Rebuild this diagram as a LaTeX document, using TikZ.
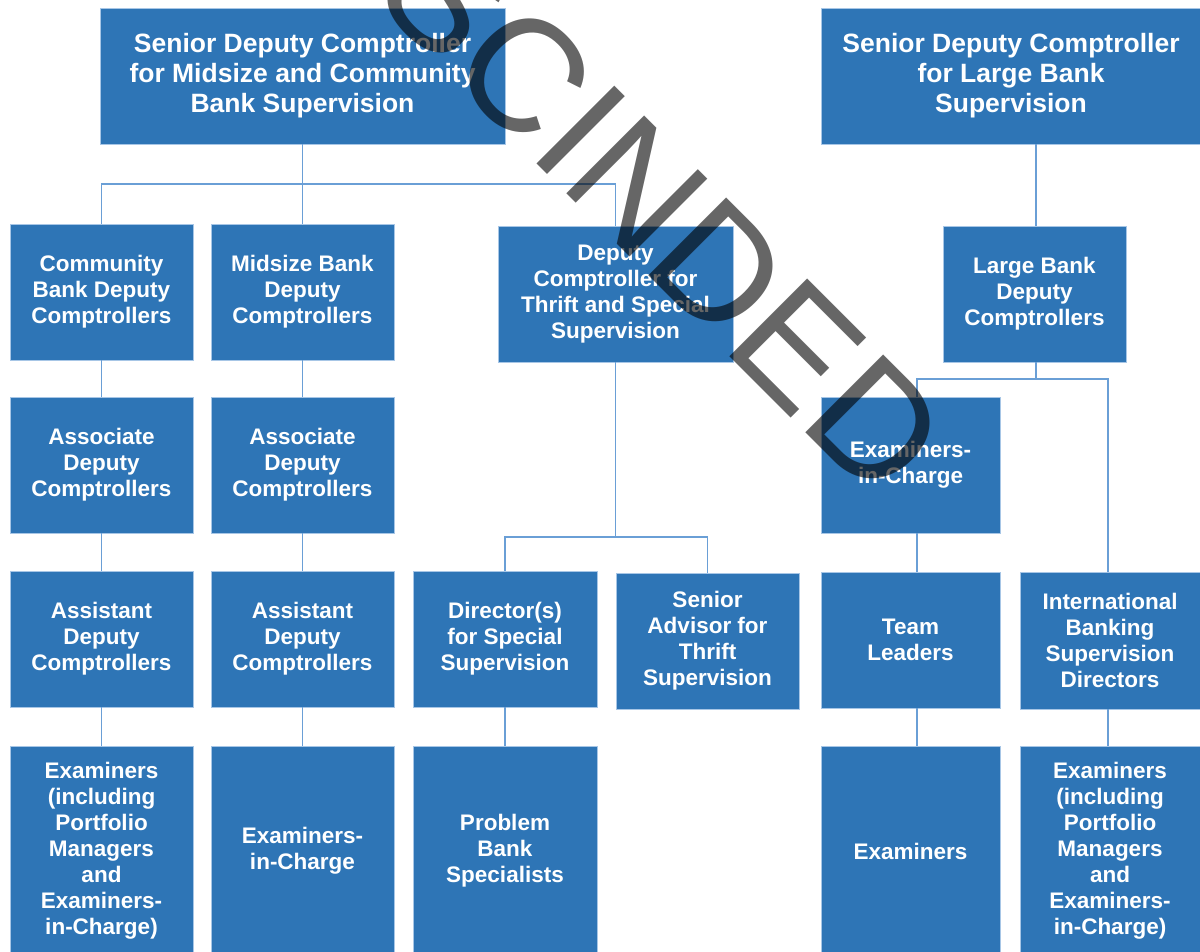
\documentclass[tikz,border=0pt]{standalone}
\usepackage{fontspec}
\setmainfont{Liberation Sans}
\definecolor{boxblue}{HTML}{2E75B6}
\definecolor{rimblue}{HTML}{A7C6E6}
\definecolor{wireblue}{HTML}{6A9FD6}

\begin{document}
\begin{tikzpicture}[
    x=1pt, y=-1pt,
    unit/.style={rectangle, fill=boxblue, draw=rimblue, line width=0.8pt,
        minimum width=183pt, minimum height=136pt, inner sep=0pt,
        align=center, text=white,
        font=\fontsize{22.5}{26}\selectfont\bfseries},
    head/.style={unit, minimum height=136pt,
        font=\fontsize{26.5}{30}\selectfont\bfseries},
    tall/.style={unit, minimum height=210pt},
    link/.style={wireblue, line width=1.5pt, -},
    stamp/.style={rotate=-45, text=black, text opacity=0.6, inner sep=0pt,
        font=\fontsize{160}{160}\selectfont}
]
    \useasboundingbox (0,0) rectangle (1200,951);
    \clip (0,0) rectangle (1200,951);
    \fill[white] (0,0) rectangle (1200,951);

    \node[head, minimum width=405pt] (sdcm) at (302.5,76)
        {Senior Deputy Comptroller\\for Midsize and Community\\Bank Supervision};
    \node[head, minimum width=380pt] (sdcl) at (1011,76)
        {Senior Deputy Comptroller\\for Large Bank\\Supervision};

    \node[unit] (cbdc) at (101.5,292) {Community\\Bank Deputy\\Comptrollers};
    \node[unit] (mbdc) at (302.5,292) {Midsize Bank\\Deputy\\Comptrollers};
    \node[unit, minimum width=235pt] (dcts) at (615.5,294)
        {Deputy\\Comptroller for\\Thrift and Special\\Supervision};
    \node[unit] (lbdc) at (1034.5,294) {Large Bank\\Deputy\\Comptrollers};

    \node[unit] (adc1) at (101.5,465) {Associate\\Deputy\\Comptrollers};
    \node[unit] (adc2) at (302.5,465) {Associate\\Deputy\\Comptrollers};
    \node[unit, minimum width=179pt] (eic) at (910.5,465) {Examiners-\\in-Charge};

    \node[unit] (asdc1) at (101.5,639) {Assistant\\Deputy\\Comptrollers};
    \node[unit] (asdc2) at (302.5,639) {Assistant\\Deputy\\Comptrollers};
    \node[unit, minimum width=184pt] (dss) at (505,639)
        {Director(s)\\for Special\\Supervision};
    \node[unit] (sats) at (707.5,641) {Senior\\Advisor for\\Thrift\\Supervision};
    \node[unit, minimum width=179pt] (tl) at (910.5,640) {Team\\Leaders};
    \node[unit, minimum width=180pt, minimum height=137pt] (ibsd) at (1110,640.5)
        {International\\Banking\\Supervision\\Directors};

    \node[tall] (ex1) at (101.5,851)
        {Examiners\\(including\\Portfolio\\Managers\\and\\Examiners-\\in-Charge)};
    \node[tall] (eic2) at (302.5,851) {Examiners-\\in-Charge};
    \node[tall, minimum width=184pt] (pbs) at (505,851) {Problem\\Bank\\Specialists};
    \node[tall, minimum width=179pt] (ex2) at (910.5,851) {Examiners};
    \node[tall, minimum width=180pt] (ex3) at (1110,851)
        {Examiners\\(including\\Portfolio\\Managers\\and\\Examiners-\\in-Charge)};

    % buses
    \coordinate (busl) at (302.5,184);
    \coordinate (bust) at (615.5,537);
    \coordinate (busr) at (1036,379);

    \draw[link] (sdcm.south) -- (busl);
    \draw[link] (cbdc.north) |- (busl) -| (dcts.north);
    \draw[link] (busl) -- (mbdc.north);
    \draw[link] (cbdc) -- (adc1);
    \draw[link] (adc1) -- (asdc1);
    \draw[link] (asdc1) -- (ex1);
    \draw[link] (mbdc) -- (adc2);
    \draw[link] (adc2) -- (asdc2);
    \draw[link] (asdc2) -- (eic2);

    \draw[link] (dcts.south) -- (bust);
    \draw[link] (dss.north) |- (bust) -| (sats.north);
    \draw[link] (dss) -- (pbs);

    \draw[link] ([xshift=1.5pt]lbdc.north) -- ([xshift=1.5pt]lbdc.north |- sdcl.south);
    \draw[link] ([xshift=1.5pt]lbdc.south) -- (busr);
    \draw[link] ([xshift=6.5pt]eic.north) |- (busr) -| ([xshift=-2pt]ibsd.north);
    \draw[link] ([xshift=6.5pt]eic.south) -- ([xshift=6.5pt]tl.north);
    \draw[link] ([xshift=6.5pt]tl.south) -- ([xshift=6.5pt]ex2.north);
    \draw[link] ([xshift=-2pt]ibsd.south) -- ([xshift=-2pt]ex3.north);

    \node[stamp] (mark) at (584,133) {RESCINDED};
\end{tikzpicture}
\end{document}
